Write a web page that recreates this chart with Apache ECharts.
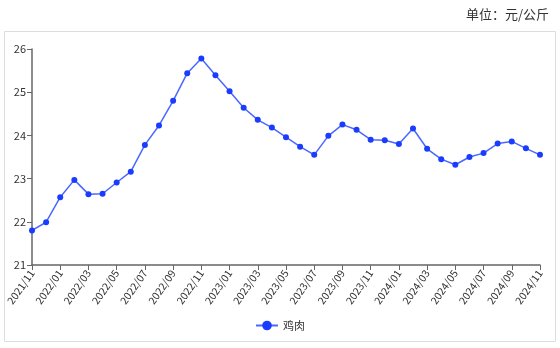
<!DOCTYPE html>
<html><head><meta charset="utf-8">
<script src="https://cdn.jsdelivr.net/npm/echarts@6/dist/echarts.min.js"></script>
<style>html,body{margin:0;padding:0;background:#fff}#c{width:560px;height:348px}</style>
</head><body><div id="c"></div>
<script>
const categories = ['2021/11','2021/12',
 '2022/01','2022/02','2022/03','2022/04','2022/05','2022/06','2022/07','2022/08','2022/09','2022/10','2022/11','2022/12',
 '2023/01','2023/02','2023/03','2023/04','2023/05','2023/06','2023/07','2023/08','2023/09','2023/10','2023/11','2023/12',
 '2024/01','2024/02','2024/03','2024/04','2024/05','2024/06','2024/07','2024/08','2024/09','2024/10','2024/11'];
const chickenValues = [21.80,21.99,
 22.57,22.97,22.64,22.65,22.91,23.16,23.78,24.23,24.80,25.44,25.78,25.39,
 25.02,24.64,24.36,24.18,23.96,23.74,23.55,23.99,24.25,24.13,23.90,23.89,
 23.80,24.16,23.69,23.45,23.32,23.50,23.59,23.81,23.86,23.70,23.55];
const seriesName = '鸡肉';
const unitText = '单位：元/公斤';

const chart = echarts.init(document.getElementById('c'), null, {renderer:'canvas'});
const font = '"Noto Sans CJK SC", "Noto Sans", sans-serif';
chart.setOption({
  animation:false,
  textStyle:{fontFamily:font},
  title:{text:unitText, right:6, top:3, textStyle:{fontSize:13, fontWeight:'normal', color:'#333', fontFamily:font}},
  graphic:[{type:'rect', shape:{x:4.5,y:31.5,width:551,height:310}, style:{fill:'none', stroke:'#ddd', lineWidth:1}, z:-1}],
  legend:{data:[seriesName], bottom:12, left:'center', itemWidth:22, itemHeight:12,
    textStyle:{fontSize:11, color:'#333'}},
  grid:{left:32, right:20, top:49, bottom:83},
  xAxis:{type:'category', data:categories, boundaryGap:false,
    axisLine:{lineStyle:{color:'#666', width:1.5}},
    axisTick:{show:true, interval:1, lineStyle:{color:'#666'}},
    axisLabel:{interval:1, rotate:55, fontSize:10.5, color:'#333', margin:6}},
  yAxis:{type:'value', min:21, max:26, interval:1,
    axisLine:{show:true, lineStyle:{color:'#666', width:1.5}},
    axisTick:{show:true, lineStyle:{color:'#666'}},
    splitLine:{show:false},
    axisLabel:{fontSize:11, color:'#333', margin:6}},
  series:[{name:seriesName, type:'line', data:chickenValues, symbol:'circle', symbolSize:6,
    itemStyle:{color:'#1a3cff'}, lineStyle:{color:'#4a68ff', width:1.5}}]
});
</script></body></html>
